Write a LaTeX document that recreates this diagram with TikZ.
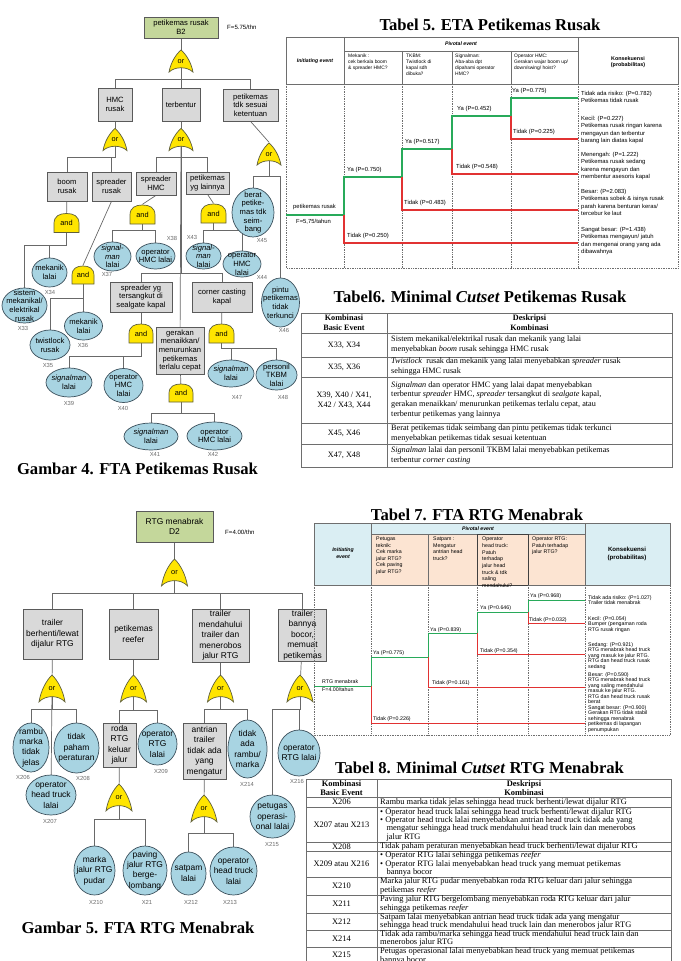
\documentclass[tikz,border=0pt]{standalone}
\usepackage{fontspec}
\setmainfont{Liberation Serif}
\setsansfont{Liberation Sans}
\usetikzlibrary{
    backgrounds,
    shapes.geometric
}
\pgfdeclarelayer{gatelayer}
\pgfsetlayers{background,gatelayer,main}
\newcommand{\pxu}{0.03cm}
\definecolor{boxgray}{RGB}{217,217,217}
\definecolor{edgegray}{RGB}{90,90,90}
\definecolor{topgreen}{RGB}{196,215,155}
\definecolor{basicblue}{RGB}{168,212,226}
\definecolor{blueedge}{RGB}{60,80,92}
\definecolor{gateyellow}{RGB}{255,229,0}
\definecolor{gateedge}{RGB}{95,95,60}
\definecolor{linkgray}{RGB}{105,105,105}
\definecolor{codegray}{RGB}{105,105,105}
\definecolor{yesgreen}{RGB}{40,170,90}
\definecolor{nored}{RGB}{225,50,50}
\definecolor{headblue}{RGB}{218,238,243}
\definecolor{headpeach}{RGB}{252,228,210}
\definecolor{tablegray}{RGB}{110,110,110}

\tikzset{
    orshape/.pic={
        \filldraw[fill=gateyellow, draw=gateedge, line width=0.6pt]
            (-1,0.92) .. controls (-0.85,0.1) and (-0.45,-0.6) .. (0,-1)
            .. controls (0.45,-0.6) and (0.85,0.1) .. (1,0.92)
            .. controls (0.5,0.42) and (-0.5,0.42) .. (-1,0.92) -- cycle;
    },
    andshape/.pic={
        \filldraw[fill=gateyellow, draw=gateedge, line width=0.6pt]
            (-1,1) -- (-1,0.05) .. controls (-1,-0.75) and (-0.55,-1) .. (0,-1)
            .. controls (0.55,-1) and (1,-0.75) .. (1,0.05) -- (1,1) -- cycle;
    }
}

\begin{document}
\begin{tikzpicture}[
    x=0.03cm,
    y=-0.03cm,
    link/.style={
        draw=linkgray,
        line width=0.6pt
    },
    event/.style 2 args={
        rectangle,
        draw=edgegray,
        fill=boxgray,
        line width=0.6pt,
        minimum width=#1*\pxu,
        minimum height=#2*\pxu,
        inner sep=1pt,
        align=center
    },
    topevent/.style 2 args={
        event={#1}{#2},
        fill=topgreen
    },
    basic/.style n args={3}{
        ellipse,
        draw=blueedge,
        fill=basicblue,
        line width=0.6pt,
        minimum width=#1*\pxu,
        minimum height=#2*\pxu,
        inner sep=0pt,
        label={[basictext]center:#3}
    },
    basictext/.style={
        align=center,
        inner sep=0pt
    },
    gate/.style 2 args={
        rectangle,
        inner sep=0pt,
        minimum width={(2*#1+1)*\pxu},
        minimum height={(2*#2+1)*\pxu},
        font=\sffamily\fontsize{6.3pt}{6.3pt}\selectfont
    },
    codelbl/.style={
        font=\sffamily\fontsize{5pt}{5pt}\selectfont,
        text=codegray,
        inner sep=0pt
    },
    freqnote/.style={
        font=\sffamily\fontsize{5.2pt}{5.2pt}\selectfont,
        anchor=west,
        inner sep=0pt
    },
    figcaption/.style={
        font=\rmfamily\bfseries\fontsize{14.2pt}{16pt}\selectfont,
        inner sep=0pt
    },
    hdr/.style={
        draw=tablegray,
        line width=0.5pt
    },
    dotline/.style={
        draw=tablegray,
        line width=0.45pt,
        densely dotted
    },
    yesline/.style={
        draw=yesgreen,
        line width=1pt
    },
    noline/.style={
        draw=nored,
        line width=1pt
    },
    etatext/.style={
        font=\sffamily\fontsize{4.2pt}{5.1pt}\selectfont,
        align=left,
        anchor=north west,
        inner sep=0pt
    },
    etatitle/.style={
        font=\sffamily\bfseries\itshape\fontsize{4.4pt}{5.4pt}\selectfont,
        align=center,
        inner sep=0pt
    },
    branchlbl/.style={
        font=\sffamily\fontsize{5pt}{5pt}\selectfont,
        anchor=west,
        inner sep=0pt
    },
    conslbl/.style={
        font=\sffamily\fontsize{5pt}{6.2pt}\selectfont,
        align=left,
        anchor=north west,
        inner sep=0pt
    },
    desccell/.style={
        font=\rmfamily\fontsize{7pt}{8.5pt}\selectfont,
        align=left,
        anchor=west,
        inner sep=0pt
    },
    keycell/.style={
        font=\rmfamily\fontsize{7pt}{8.5pt}\selectfont,
        align=center,
        inner sep=0pt
    },
    headcell/.style={
        keycell,
        font=\rmfamily\bfseries\fontsize{7pt}{8.5pt}\selectfont
    },
    tightcell/.style={
        desccell,
        font=\rmfamily\fontsize{7.2pt}{7.1pt}\selectfont
    },
    tightkey/.style={
        keycell,
        font=\rmfamily\fontsize{7.2pt}{7.1pt}\selectfont
    },
    tighthead/.style={
        keycell,
        font=\rmfamily\bfseries\fontsize{7.2pt}{7.1pt}\selectfont
    }
]
\useasboundingbox (0,0) rectangle (681,961);

% ==========================================================
% Gambar 4: FTA petikemas rusak
% ==========================================================
\begin{scope}[font=\sffamily\fontsize{6.5pt}{7.4pt}\selectfont]

\node[topevent={74}{21}] (b2) at (181,27.5) {petikemas rusak\\B2};
\node[freqnote] (fb2) at (227,27) {F=5.75/thn};
\node[gate={12}{11.5}] (g1) at (181,61.5) {or};

\node[event={34}{33}] (hmc) at (115,104.5) {HMC\\rusak};
\node[event={38}{33}] (terbentur) at (181,104.5) {terbentur};
\node[event={55}{32}] (tdksesuai) at (250.5,105) {petikemas\\tdk sesuai\\ketentuan};

\node[gate={12}{11.5}] (g2) at (115,140) {or};
\node[gate={12}{11.5}] (g3) at (181,140) {or};
\node[gate={12}{11.5}] (g4) at (269,154.5) {or};

\node[event={40}{29}] (boom) at (67,186.5) {boom\\rusak};
\node[event={39}{29}] (sprrusak) at (111.5,186.5) {spreader\\rusak};
\node[event={40}{23}] (sprhmc) at (156,183.5) {spreader\\HMC};
\node[event={43}{22}] (lainnya) at (207.5,183) {petikemas\\yg lainnya};

\node[basic={42}{49}{berat\\petike-\\mas tdk\\seim-\\bang}] (x45) at (253,212.5) {};
\node[basic={38}{49}{pintu\\petikemas\\tidak\\terkunci}] (x46) at (280.5,302.5) {};

\node[gate={12.5}{9.5}] (g5) at (66.5,223) {and};
\node[gate={12.5}{9.5}] (g6) at (142.5,214.5) {and};
\node[gate={12.5}{9.5}] (g7) at (213.5,213.5) {and};
\node[gate={11}{9}] (g8) at (83,275) {and};

\node[basic={35}{29}{mekanik\\lalai}] (x34) at (49.5,272.5) {};
\node[basic={45}{35}{sistem\\mekanikal/\\elektrikal\\rusak}] (x33) at (24.5,305.5) {};
\node[basic={40}{30}{twistlock\\rusak}] (x35) at (50,345) {};
\node[basic={38}{28}{mekanik\\lalai}] (x36) at (83.5,326) {};
\node[basic={37}{29}{\textit{signal-}\\\textit{man}\\lalai}] (x37) at (112.5,256.5) {};
\node[basic={39}{26}{operator\\HMC lalai}] (x38) at (155.5,256) {};
\node[basic={35}{26}{\textit{signal-}\\\textit{man}\\lalai}] (x43) at (203.5,256) {};
\node[basic={38}{26}{operator\\HMC\\lalai}] (x44) at (242,264) {};

\node[event={62}{30}] (tersangkut) at (141,297) {spreader yg\\tersangkut di\\sealgate kapal};
\node[event={60}{30}] (corner) at (222,297) {corner casting\\kapal};
\node[event={48}{47}] (gerakan) at (180,350.5) {gerakan\\menaikkan/\\menurunkan\\petikemas\\terlalu cepat};

\node[gate={12}{9.5}] (g9) at (141,333.5) {and};
\node[gate={12.5}{9.5}] (g10) at (221.5,333.5) {and};
\node[gate={12}{9}] (g11) at (181,393) {and};

\node[basic={46}{29}{\textit{signalman}\\lalai}] (x39) at (69,382.5) {};
\node[basic={39}{34}{operator\\HMC\\lalai}] (x40) at (123.5,385.5) {};
\node[basic={54}{27}{\textit{signalman}\\lalai}] (x41) at (151,436.5) {};
\node[basic={55}{28}{operator\\HMC lalai}] (x42) at (214.5,436) {};
\node[basic={46}{27}{\textit{signalman}\\lalai}] (x47) at (231,373.5) {};
\node[basic={41}{30}{personil\\TKBM\\lalai}] (x48) at (276.5,375) {};

\node[codelbl] (c33) at (23,328) {X33};
\node[codelbl] (c34) at (50,292) {X34};
\node[codelbl] (c35) at (48,365) {X35};
\node[codelbl] (c36) at (83,345) {X36};
\node[codelbl] (c37) at (107,274) {X37};
\node[codelbl] (c38) at (172,238) {X38};
\node[codelbl] (c39) at (69,403) {X39};
\node[codelbl] (c40) at (123,408) {X40};
\node[codelbl] (c41) at (155,454) {X41};
\node[codelbl] (c42) at (213,454) {X42};
\node[codelbl] (c43) at (192,237) {X43};
\node[codelbl] (c44) at (262,277) {X44};
\node[codelbl] (c45) at (262,241) {X45};
\node[codelbl] (c46) at (284,330) {X46};
\node[codelbl] (c47) at (237,397) {X47};
\node[codelbl] (c48) at (283,397) {X48};

\end{scope}

\node[figcaption] (cap4) at (137.5,468.5) {Gambar 4. FTA Petikemas Rusak};

% ==========================================================
% Gambar 5: FTA RTG menabrak
% ==========================================================
\begin{scope}[font=\sffamily\fontsize{7.2pt}{8.9pt}\selectfont]

\node[topevent={77}{31}] (d2) at (174.5,526.5) {RTG menabrak\\D2};
\node[freqnote] (fd2) at (225,532) {F=4.00/thn};
\node[gate={13}{14}] (h1) at (174.5,573) {or};

\node[event={59}{50}] (berhenti) at (52.5,634) {trailer\\berhenti/lewat\\dijalur RTG};
\node[event={49}{50}] (reefer) at (133.5,634) {petikemas\\reefer};
\node[event={57}{53}] (mendahului) at (220.5,635.5) {trailer\\mendahului\\trailer dan\\menerobos\\jalur RTG};
\node[event={48}{52}] (bocor) at (302.5,635) {trailer\\bannya\\bocor,\\memuat\\petikemas};

\node[gate={13}{14}] (h2) at (52,689) {or};
\node[gate={13}{14}] (h3) at (133.5,689) {or};
\node[gate={13}{14}] (h4) at (220.5,689) {or};
\node[gate={13}{14}] (h5) at (300,689) {or};

\node[basic={36}{49}{rambu\\marka\\tidak\\jelas}] (x206) at (31,747.5) {};
\node[basic={45}{50}{tidak\\paham\\peraturan}] (x208) at (76.5,748) {};
\node[basic={50}{40}{operator\\head truck\\lalai}] (x207) at (51,795) {};
\node[event={33}{44}] (roda) at (119.5,745) {roda\\RTG\\keluar\\jalur};
\node[basic={39}{42}{operator\\RTG\\lalai}] (x209) at (157.5,744) {};
\node[event={43}{56}] (antrian) at (204.5,751) {antrian\\trailer\\tidak ada\\yang\\mengatur};
\node[basic={39}{58}{tidak\\ada\\rambu/\\marka}] (x214) at (247.5,749) {};
\node[basic={42}{46}{operator\\RTG lalai}] (x216) at (299,753) {};
\node[basic={45}{43}{petugas\\operasi-\\onal lalai}] (x215) at (272.5,816.5) {};

\node[gate={13}{14}] (h6) at (119,798) {or};
\node[gate={13}{14}] (h7) at (204,809) {or};

\node[basic={41}{49}{marka\\jalur RTG\\pudar}] (x210) at (94.5,870.5) {};
\node[basic={44}{49}{paving\\jalur RTG\\berge-\\lombang}] (x211) at (145,870.5) {};
\node[basic={35}{43}{satpam\\lalai}] (x212) at (188.5,873.5) {};
\node[basic={47}{48}{operator\\head truck\\lalai}] (x213) at (233.5,871) {};

\node[codelbl] (c206) at (23,777) {X206};
\node[codelbl] (c207) at (50,821) {X207};
\node[codelbl] (c208) at (83,778) {X208};
\node[codelbl] (c209) at (161,771) {X209};
\node[codelbl] (c210) at (96,902) {X210};
\node[codelbl] (c211) at (147,902) {X21};
\node[codelbl] (c212) at (191,902) {X212};
\node[codelbl] (c213) at (230,902) {X213};
\node[codelbl] (c214) at (247,784) {X214};
\node[codelbl] (c215) at (272,844) {X215};
\node[codelbl] (c216) at (297,781) {X216};

\end{scope}

\node[figcaption] (cap5) at (138,927.5) {Gambar 5. FTA RTG Menabrak};

% ==========================================================
% Gate bodies, under the gate labels
% ==========================================================
\begin{pgfonlayer}{gatelayer}
\foreach \g/\sx/\sy in {g1/12/11.5, g2/12/11.5, g3/12/11.5, g4/12/11.5,
    h1/13/14, h2/13/14, h3/13/14, h4/13/14, h5/13/14, h6/13/14, h7/13/14}
    \pic[xscale=\sx, yscale=\sy] at (\g) {orshape};
\foreach \g/\sx/\sy in {g5/12.5/9.5, g6/12.5/9.5, g7/12.5/9.5, g8/11/9,
    g9/12/9.5, g10/12.5/9.5, g11/12/9}
    \pic[xscale=\sx, yscale=\sy] at (\g) {andshape};
\end{pgfonlayer}

% ==========================================================
% Connectors of both trees
% ==========================================================
\begin{scope}[on background layer]

\draw[link] (b2.center) -- (g1.center);
\draw[link] (g1.center) |- (hmc.center |- 0,79) -- (hmc.center);
\draw[link] (g1.center) -- (terbentur.center);
\draw[link] (g1.center) |- (tdksesuai.center |- 0,79) -- (tdksesuai.center);

\draw[link] (hmc.center) -- (g2.center);
\draw[link] (terbentur.center) -- (g3.center);
\draw[link] (tdksesuai.south) -- (g4.north);

\draw[link] (g2.center) |- (boom.center |- 0,157) -- (boom.center);
\draw[link] (g2.center) |- (sprrusak.center |- 0,157) -- (sprrusak.center);
\draw[link] (g3.center) |- (sprhmc.center |- 0,157) -- (sprhmc.center);
\draw[link] (g3.center) |- (lainnya.center |- 0,157) -- (lainnya.center);
\draw[link] (g3.center) |- (tersangkut.center |- 0,273) -- (tersangkut.center);
\draw[link] (g3.center) |- (corner.center |- 0,273) -- (corner.center);
\draw[link] (g3.center) -- (gerakan.center);
\draw[link] (g4.center) |- (x45.center |- 0,176) -- (x45.center);
\draw[link] (g4.center) |- (x46.center |- 0,176) -- (x46.center);

\draw[link] (boom.center) -- (g5.center);
\draw[link] (g5.center) |- (x34.center |- 0,245) -- (x34.center);
\draw[link] (g5.center) |- (x33.center |- 0,245) -- (x33.center);
\draw[link] (sprrusak.south) -- (g8.north);
\draw[link] (g8.center) |- (x35.center |- 0,298) -- (x35.center);
\draw[link] (g8.center) |- (x36.center |- 0,298) -- (x36.center);
\draw[link] (sprhmc.south) -- (g6.north);
\draw[link] (g6.center) |- (x37.center |- 0,230) -- (x37.center);
\draw[link] (g6.center) |- (x38.center |- 0,230) -- (x38.center);
\draw[link] (lainnya.south) -- (g7.north);
\draw[link] (g7.center) |- (x43.center |- 0,230) -- (x43.center);
\draw[link] (g7.center) |- (x44.center |- 0,230) -- (x44.center);

\draw[link] (tersangkut.center) -- (g9.center);
\draw[link] (g9.center) |- (x39.center |- 0,356) -- (x39.center);
\draw[link] (g9.center) |- (x40.center |- 0,356) -- (x40.center);
\draw[link] (corner.center) -- (g10.center);
\draw[link] (g10.center) |- (x47.center |- 0,348) -- (x47.center);
\draw[link] (g10.center) |- (x48.center |- 0,348) -- (x48.center);
\draw[link] (gerakan.center) -- (g11.center);
\draw[link] (g11.center) |- (x41.center |- 0,413) -- (x41.center);
\draw[link] (g11.center) |- (x42.center |- 0,413) -- (x42.center);

\draw[link] (d2.center) -- (h1.center);
\draw[link] (h1.center) |- (berhenti.center |- 0,593) -- (berhenti.center);
\draw[link] (h1.center) |- (reefer.center |- 0,593) -- (reefer.center);
\draw[link] (h1.center) |- (mendahului.center |- 0,593) -- (mendahului.center);
\draw[link] (h1.center) |- (bocor.center |- 0,593) -- (bocor.center);

\draw[link] (berhenti.center) -- (h2.center);
\draw[link] (reefer.center) -- (h3.center);
\draw[link] (mendahului.center) -- (h4.center);
\draw[link] (bocor.center) -- (h5.center);

\draw[link] (h2.center) |- (x206.center |- 0,709) -- (x206.center);
\draw[link] (h2.center) -- (x207.center);
\draw[link] (h2.center) |- (x208.center |- 0,709) -- (x208.center);
\draw[link] (h3.center) |- (roda.center |- 0,710) -- (roda.center);
\draw[link] (h3.center) |- (x209.center |- 0,710) -- (x209.center);
\draw[link] (h4.center) |- (antrian.center |- 0,709) -- (antrian.center);
\draw[link] (h4.center) |- (x214.center |- 0,709) -- (x214.center);
\draw[link] (h5.center) |- (x215.center |- 0,709) -- (x215.center);
\draw[link] (h5.center) |- (x216.center |- 0,709) -- (x216.center);

\draw[link] (roda.center) -- (h6.center);
\draw[link] (h6.center) |- (x210.center |- 0,819) -- (x210.center);
\draw[link] (h6.center) |- (x211.center |- 0,819) -- (x211.center);
\draw[link] (antrian.center) -- (h7.center);
\draw[link] (h7.center) |- (x212.center |- 0,833) -- (x212.center);
\draw[link] (h7.center) |- (x213.center |- 0,833) -- (x213.center);

% dotted grid of Tabel 5 lies under the tree nodes
\draw[dotline] (286,84) -- (286,268) -- (678,268) -- (678,84);
\draw[dotline] (344,84) -- (344,268) (402,84) -- (402,268) (452,84) -- (452,268)
    (511,84) -- (511,268) (578,84) -- (578,268);

\end{scope}

% ==========================================================
% Tabel 5: ETA petikemas rusak
% ==========================================================
\node[figcaption] (tab5) at (490,24.5) {Tabel 5. ETA Petikemas Rusak};

\draw[hdr] (286,37) rectangle (678,84);
\draw[hdr] (344,37) -- (344,84) (578,37) -- (578,84) (344,51) -- (578,51)
    (402,51) -- (402,84) (452,51) -- (452,84) (511,51) -- (511,84);

\node[etatitle] (t5init) at (315,61) {Initiating event};
\node[etatitle] (t5piv) at (461,44) {Pivotal event};
\node[etatext] (t5q1) at (348,54) {Mekanik :\\cek berkala boom\\\& spreader HMC?};
\node[etatext] (t5q2) at (406,54) {TKBM:\\Twistlock di\\kapal sdh\\dibuka?};
\node[etatext] (t5q3) at (455,54) {Signalman:\\Aba-aba dpt\\dipahami operator\\HMC?};
\node[etatext] (t5q4) at (514,54) {Operator HMC:\\Gerakan wajar boom up/\\down/swing/ hoist?};
\node[etatitle, font=\sffamily\bfseries\fontsize{4.6pt}{5.6pt}\selectfont] (t5kons) at (628,62) {Konsekuensi\\(probabilitas)};

\draw[yesline] (286,215) -- (344,215) -- (344,177) -- (402,177) -- (402,149)
    -- (452,149) -- (452,116) -- (511,116) -- (511,98) -- (578,98);
\draw[noline] (344,215) -- (344,243) -- (578,243);
\draw[noline] (402,177) -- (402,210) -- (578,210);
\draw[noline] (452,149) -- (452,174) -- (578,174);
\draw[noline] (511,116) -- (511,139) -- (578,139);

\node[branchlbl] (t5init1) at (293,207) {petikemas rusak};
\node[branchlbl] (t5init2) at (296,222) {F=5,75/tahun};
\node[branchlbl] (t5y1) at (347,170) {Ya (P=0.750)};
\node[branchlbl] (t5n1) at (347,236) {Tidak (P=0.250)};
\node[branchlbl] (t5y2) at (405,142) {Ya (P=0.517)};
\node[branchlbl] (t5n2) at (404,203) {Tidak (P=0.483)};
\node[branchlbl] (t5y3) at (457,109) {Ya (P=0.452)};
\node[branchlbl] (t5n3) at (456,167) {Tidak (P=0.548)};
\node[branchlbl] (t5y4) at (512,91) {Ya (P=0.775)};
\node[branchlbl] (t5n4) at (513,132) {Tidak (P=0.225)};

\node[conslbl] (t5c1) at (581,91) {Tidak ada risiko: (P=0.782)\\Petikemas tidak rusak};
\node[conslbl] (t5c2) at (581,116) {Kecil: (P=0.227)\\Petikemas rusak ringan karena\\mengayun dan terbentur\\barang lain diatas kapal};
\node[conslbl] (t5c3) at (581,152) {Menengah: (P=1.222)\\Petikemas rusak sedang\\karena mengayun dan\\membentur asesoris kapal};
\node[conslbl] (t5c4) at (581,189) {Besar: (P=2.083)\\Petikemas sobek \& isinya rusak\\parah karena benturan keras/\\tercebur ke laut};
\node[conslbl] (t5c5) at (581,227) {Sangat besar: (P=1.438)\\Petikemas mengayun/ jatuh\\dan mengenai orang yang ada\\dibawahnya};

% ==========================================================
% Tabel 6: minimal cutset petikemas rusak
% ==========================================================
\node[figcaption] (tab6) at (480,297) {Tabel6. Minimal \textit{Cutset} Petikemas Rusak};

\draw[hdr] (301,313) rectangle (672,467);
\draw[hdr] (387,313) -- (387,467);
\draw[hdr] (301,333) -- (672,333) (301,357) -- (672,357) (301,377) -- (672,377)
    (301,423) -- (672,423) (301,444) -- (672,444);

\node[headcell] (t6h1) at (344,323) {Kombinasi\\Basic Event};
\node[headcell] (t6h2) at (529.5,323) {Deskripsi\\Kombinasi};
\node[keycell] (t6k1) at (344,345) {X33, X34};
\node[keycell] (t6k2) at (344,367) {X35, X36};
\node[keycell] (t6k3) at (344,400) {X39, X40 / X41,\\X42 / X43, X44};
\node[keycell] (t6k4) at (344,433.5) {X45, X46};
\node[keycell] (t6k5) at (344,455.5) {X47, X48};
\node[desccell] (t6d1) at (391,345) {Sistem mekanikal/elektrikal rusak dan mekanik yang lalai\\menyebabkan \textit{boom} rusak sehingga HMC rusak};
\node[desccell] (t6d2) at (391,367) {\textit{Twistlock}\ \ rusak dan mekanik yang lalai menyebabkan \textit{spreader} rusak\\sehingga HMC rusak};
\node[desccell] (t6d3) at (391,400) {\textit{Signalman} dan operator HMC yang lalai dapat menyebabkan\\terbentur \textit{spreader} HMC, \textit{spreader} tersangkut di \textit{sealgate} kapal,\\gerakan menaikkan/ menurunkan petikemas terlalu cepat, atau\\terbentur petikemas yang lainnya};
\node[desccell] (t6d4) at (391,433.5) {Berat petikemas tidak seimbang dan pintu petikemas tidak terkunci\\menyebabkan petikemas tidak sesuai ketentuan};
\node[desccell] (t6d5) at (391,455.5) {\textit{Signalman} lalai dan personil TKBM lalai menyebabkan petikemas\\terbentur \textit{corner casting}};

% ==========================================================
% Tabel 7: ETA RTG menabrak
% ==========================================================
\node[figcaption] (tab7) at (477,515) {Tabel 7. FTA RTG Menabrak};

\fill[headblue] (314,523) rectangle (371,585);
\fill[headblue] (371,523) rectangle (585,534);
\fill[headpeach] (371,534) rectangle (585,585);
\fill[headblue] (585,523) rectangle (670,585);
\draw[hdr] (314,523) rectangle (670,585);
\draw[hdr] (371,523) -- (371,585) (585,523) -- (585,585) (371,534) -- (585,534)
    (428,534) -- (428,585);
\draw[hdr, draw=black!75] (477,534) rectangle (528,585);
\draw[dotline] (314,585) -- (314,735) -- (670,735) -- (670,585);
\draw[dotline] (371,585) -- (371,735) (428,585) -- (428,735) (477,585) -- (477,735)
    (528,585) -- (528,735) (585,585) -- (585,735);

\node[etatitle] (t7init) at (343,553) {Initiating\\event};
\node[etatitle] (t7piv) at (478,529) {Pivotal event};
\node[etatext, font=\sffamily\fontsize{4.5pt}{5.5pt}\selectfont] (t7q1) at (376,537) {Petugas\\teknik:\\Cek marka\\jalur RTG?\\Cek paving\\jalur RTG?};
\node[etatext, font=\sffamily\fontsize{4.5pt}{5.5pt}\selectfont] (t7q2) at (433,537) {Satpam :\\Mengatur\\antrian head\\truck?};
\node[etatext, font=\sffamily\fontsize{4.5pt}{5.7pt}\selectfont] (t7q3) at (482,537) {Operator\\head truck:\\Patuh\\terhadap\\jalur head\\truck \& tdk\\saling\\mendahului?};
\node[etatext, font=\sffamily\fontsize{4.5pt}{5.5pt}\selectfont] (t7q4) at (532,537) {Operator RTG:\\Patuh terhadap\\jalur RTG?};
\node[etatitle, font=\sffamily\bfseries\fontsize{5.2pt}{6.2pt}\selectfont] (t7kons) at (627,554) {Konsekuensi\\(probabilitas)};

\draw[yesline, line width=0.8pt] (314,686) -- (371,686) -- (371,657) -- (428,657) -- (428,633)
    -- (477,633) -- (477,612) -- (528,612) -- (528,600) -- (585,600);
\draw[noline, line width=0.8pt] (371,686) -- (371,723) -- (585,723);
\draw[noline, line width=0.8pt] (428,657) -- (428,687) -- (585,687);
\draw[noline, line width=0.8pt] (477,633) -- (477,654) -- (585,654);
\draw[noline, line width=0.8pt] (528,612) -- (528,623) -- (585,623);

\node[branchlbl, font=\sffamily\fontsize{4.5pt}{4.5pt}\selectfont] (t7init1) at (322,682) {RTG menabrak};
\node[branchlbl, font=\sffamily\fontsize{4.5pt}{4.5pt}\selectfont] (t7init2) at (322,690) {F=4.00/tahun};
\node[branchlbl, font=\sffamily\fontsize{4.5pt}{4.5pt}\selectfont] (t7y1) at (373,653) {Ya (P=0.775)};
\node[branchlbl, font=\sffamily\fontsize{4.5pt}{4.5pt}\selectfont] (t7n1) at (373,719) {Tidak (P=0.226)};
\node[branchlbl, font=\sffamily\fontsize{4.5pt}{4.5pt}\selectfont] (t7y2) at (430,630) {Ya (P=0.839)};
\node[branchlbl, font=\sffamily\fontsize{4.5pt}{4.5pt}\selectfont] (t7n2) at (432,683) {Tidak (P=0.161)};
\node[branchlbl, font=\sffamily\fontsize{4.5pt}{4.5pt}\selectfont] (t7y3) at (480,608) {Ya (P=0.646)};
\node[branchlbl, font=\sffamily\fontsize{4.5pt}{4.5pt}\selectfont] (t7n3) at (480,651) {Tidak (P=0.354)};
\node[branchlbl, font=\sffamily\fontsize{4.5pt}{4.5pt}\selectfont] (t7y4) at (530,596) {Ya (P=0.968)};
\node[branchlbl, font=\sffamily\fontsize{4.5pt}{4.5pt}\selectfont] (t7n4) at (529,620) {Tidak (P=0.032)};

\node[conslbl, font=\sffamily\fontsize{4.5pt}{4.7pt}\selectfont] (t7c1) at (588,595) {Tidak ada risiko: (P=1.027)\\Trailer tidak menabrak};
\node[conslbl, font=\sffamily\fontsize{4.5pt}{4.7pt}\selectfont] (t7c2) at (588,616) {Kecil: (P=0.054)\\Bumper (pengaman roda\\RTG rusak ringan};
\node[conslbl, font=\sffamily\fontsize{4.5pt}{4.7pt}\selectfont] (t7c3) at (588,642) {Sedang: (P=0.921)\\RTG menabrak head truck\\yang masuk ke jalur RTG.\\RTG dan head truck rusak\\sedang};
\node[conslbl, font=\sffamily\fontsize{4.5pt}{4.7pt}\selectfont] (t7c4) at (588,672) {Besar: (P=0.590)\\RTG menabrak head truck\\yang saling mendahului\\masuk ke jalur RTG.\\RTG dan head truck rusak\\berat};
\node[conslbl, font=\sffamily\fontsize{4.5pt}{4.7pt}\selectfont] (t7c5) at (588,705) {Sangat besar: (P=0.900)\\Gerakan RTG tidak stabil\\sehingga menabrak\\petikemas di lapangan\\penumpukan};

% ==========================================================
% Tabel 8: minimal cutset RTG menabrak
% ==========================================================
\node[figcaption] (tab8) at (479.5,768) {Tabel 8. Minimal \textit{Cutset} RTG Menabrak};

\draw[hdr] (306,975) -- (306,779) -- (671,779) -- (671,975);
\draw[hdr] (377,779) -- (377,975);
\draw[hdr] (306,797) -- (671,797) (306,807) -- (671,807) (306,842) -- (671,842)
    (306,851) -- (671,851) (306,877) -- (671,877) (306,895) -- (671,895)
    (306,913) -- (671,913) (306,930) -- (671,930) (306,947) -- (671,947);

\node[tighthead] (t8h1) at (341.5,788) {Kombinasi\\Basic Event};
\node[tighthead] (t8h2) at (524,788) {Deskripsi\\Kombinasi};
\node[tightkey] (t8k1) at (341.5,802) {X206};
\node[tightkey] (t8k2) at (341.5,824.5) {X207 atau X213};
\node[tightkey] (t8k3) at (341.5,846.5) {X208};
\node[tightkey] (t8k4) at (341.5,864) {X209 atau X216};
\node[tightkey] (t8k5) at (341.5,886) {X210};
\node[tightkey] (t8k6) at (341.5,904) {X211};
\node[tightkey] (t8k7) at (341.5,921.5) {X212};
\node[tightkey] (t8k8) at (341.5,938.5) {X214};
\node[tightkey] (t8k9) at (341.5,955) {X215};
\node[tightcell] (t8d1) at (380,802) {Rambu marka tidak jelas sehingga head truck berhenti/lewat dijalur RTG};
\node[tightcell] (t8d2) at (380,824.5) {\textbullet\ Operator head truck lalai sehingga head truck berhenti/lewat dijalur RTG\\\textbullet\ Operator head truck lalai menyebabkan antrian head truck tidak ada yang\\\hspace*{0.75em}mengatur sehingga head truck mendahului head truck lain dan menerobos\\\hspace*{0.75em}jalur RTG};
\node[tightcell] (t8d3) at (380,846.5) {Tidak paham peraturan menyebabkan head truck berhenti/lewat dijalur RTG};
\node[tightcell] (t8d4) at (380,864) {\textbullet\ Operator RTG lalai sehingga petikemas \textit{reefer}\\\textbullet\ Operator RTG lalai menyebabkan head truck yang memuat petikemas\\\hspace*{0.75em}bannya bocor};
\node[tightcell] (t8d5) at (380,886) {Marka jalur RTG pudar menyebabkan roda RTG keluar dari jalur sehingga\\petikemas \textit{reefer}};
\node[tightcell] (t8d6) at (380,904) {Paving jalur RTG bergelombang menyebabkan roda RTG keluar dari jalur\\sehingga petikemas \textit{reefer}};
\node[tightcell] (t8d7) at (380,921.5) {Satpam lalai menyebabkan antrian head truck tidak ada yang mengatur\\sehingga head truck mendahului head truck lain dan menerobos jalur RTG};
\node[tightcell] (t8d8) at (380,938.5) {Tidak ada rambu/marka sehingga head truck mendahului head truck lain dan\\menerobos jalur RTG};
\node[tightcell, anchor=north west, font=\rmfamily\fontsize{7.2pt}{6.4pt}\selectfont] (t8d9) at (380,947.5) {Petugas operasional lalai menyebabkan head truck yang memuat petikemas\\bannya bocor};

\end{tikzpicture}
\end{document}
